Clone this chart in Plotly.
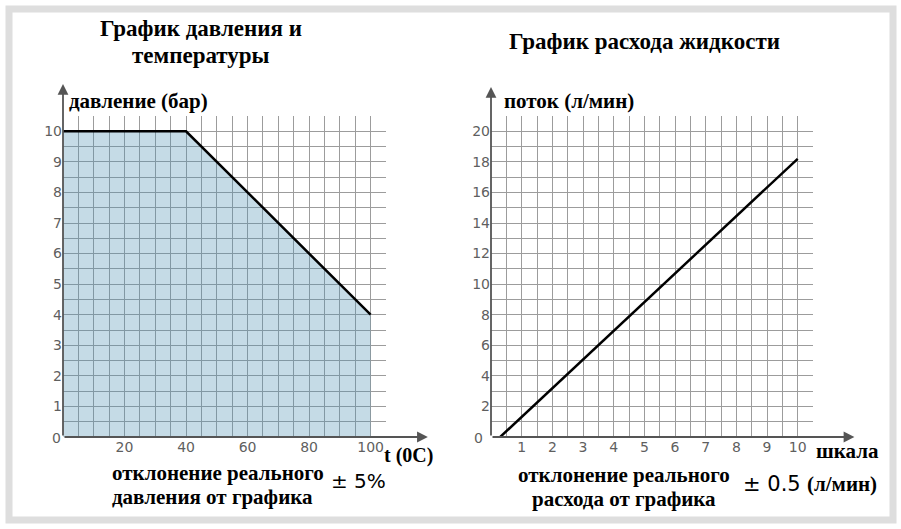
import plotly.graph_objects as go

# left chart: pressure vs temperature
temp = [0, 40, 100]
pressure = [10, 10, 4]
temp_ticks = [20, 40, 60, 80, 100]
press_ticks = [1, 2, 3, 4, 5, 6, 7, 8, 9, 10]

# right chart: flow vs scale
scale = [0.3, 10]
flow = [0, 18.2]
scale_ticks = [1, 2, 3, 4, 5, 6, 7, 8, 9, 10]
flow_ticks = [2, 4, 6, 8, 10, 12, 14, 16, 18, 20]

W, H = 901, 529
SERIF = "Liberation Serif, Times New Roman, serif"
SANS = "DejaVu Sans"
GRID = "#9c9c9c"
AXIS = "#555555"
TICKFONT = dict(family=SANS, size=14, color="#5f5f5f")

fig = go.Figure()
fig.add_trace(go.Scatter(x=temp, y=pressure, mode="lines", fill="tozeroy",
                         fillcolor="rgba(74,142,177,0.32)",
                         line=dict(color="black", width=2.5),
                         xaxis="x", yaxis="y", showlegend=False))
fig.add_trace(go.Scatter(x=scale, y=flow, mode="lines",
                         line=dict(color="black", width=2.5),
                         xaxis="x2", yaxis="y2", showlegend=False))


def px(v):
    return v / W


def py(v):
    return 1 - v / H


def ax(domain, rng, ticks, minor, anchor):
    return dict(domain=domain, range=rng, tickvals=ticks, showgrid=True,
                gridcolor=GRID, gridwidth=1, zeroline=False, showline=False,
                ticks="", tickfont=TICKFONT, anchor=anchor, fixedrange=True,
                minor=dict(dtick=minor, showgrid=True, gridcolor=GRID, gridwidth=1))


ydom = [py(437), py(116)]
fig.update_layout(
    width=W, height=H, margin=dict(l=0, r=0, t=0, b=0),
    paper_bgcolor="white", plot_bgcolor="white",
    xaxis=ax([px(63), px(386)], [0, 105], temp_ticks, 5, "y"),
    yaxis=ax(ydom, [0, 10.5], press_ticks, 0.5, "x"),
    xaxis2=ax([px(491), px(813)], [0, 10.5], scale_ticks, 0.5, "y2"),
    yaxis2=ax(ydom, [0, 21], flow_ticks, 1, "x2"),
)

# outer frame
fig.add_shape(type="rect", xref="paper", yref="paper",
              x0=px(9), x1=px(893), y0=py(520), y1=py(9),
              line=dict(color="#dedede", width=7))

# axis arrows
arrows = [("x", "y", 0, 11.55, 0, 0), ("x", "y", 118.6, 0, 0, 0),
          ("x2", "y2", 0, 22.9, 0, 0), ("x2", "y2", 11.85, 0, 0, 0)]
for xr, yr, x, y, x0, y0 in arrows:
    fig.add_annotation(x=x, y=y, xref=xr, yref=yr, ax=x0, ay=y0,
                       axref=xr, ayref=yr, text="", showarrow=True,
                       arrowhead=2, arrowsize=1.2, arrowwidth=1.8,
                       arrowcolor=AXIS)


def txt(x, y, s, size, bold=True, family=SERIF, anchor="center"):
    fig.add_annotation(x=px(x), y=py(y), xref="paper", yref="paper",
                       text=("<b>%s</b>" % s) if bold else s, showarrow=False,
                       xanchor=anchor, yanchor="middle",
                       font=dict(family=family, size=size, color="black"))


txt(201, 29, "График давления и", 23)
txt(201, 55, "температуры", 23)
txt(644, 42, "График расхода жидкости", 23)
txt(67, 101, "давление (бар)", 21, anchor="left")
txt(502, 101, "поток (л/мин)", 21, anchor="left")
txt(382, 455, "t (0C)", 20, anchor="left")
txt(814, 451, "шкала", 21, anchor="left")
txt(218, 473, "отклонение реального", 21)
txt(212, 497, "давления от графика", 21)
txt(329, 481, "± 5%", 20, bold=False, family=SANS, anchor="left")
txt(624, 475, "отклонение реального", 21)
txt(624, 499, "расхода от графика", 21)
txt(741, 484, "± 0.5", 21, bold=False, family=SANS, anchor="left")
txt(805, 484, "(л/мин)", 21, anchor="left")

# corner zero labels
for x in (50, 478):
    fig.add_annotation(x=px(x), y=py(448), xref="paper", yref="paper",
                       text="0", showarrow=False, font=TICKFONT)

fig.write_html("out.html", config={"displayModeBar": False},
               post_script="document.body.style.margin='0';")
